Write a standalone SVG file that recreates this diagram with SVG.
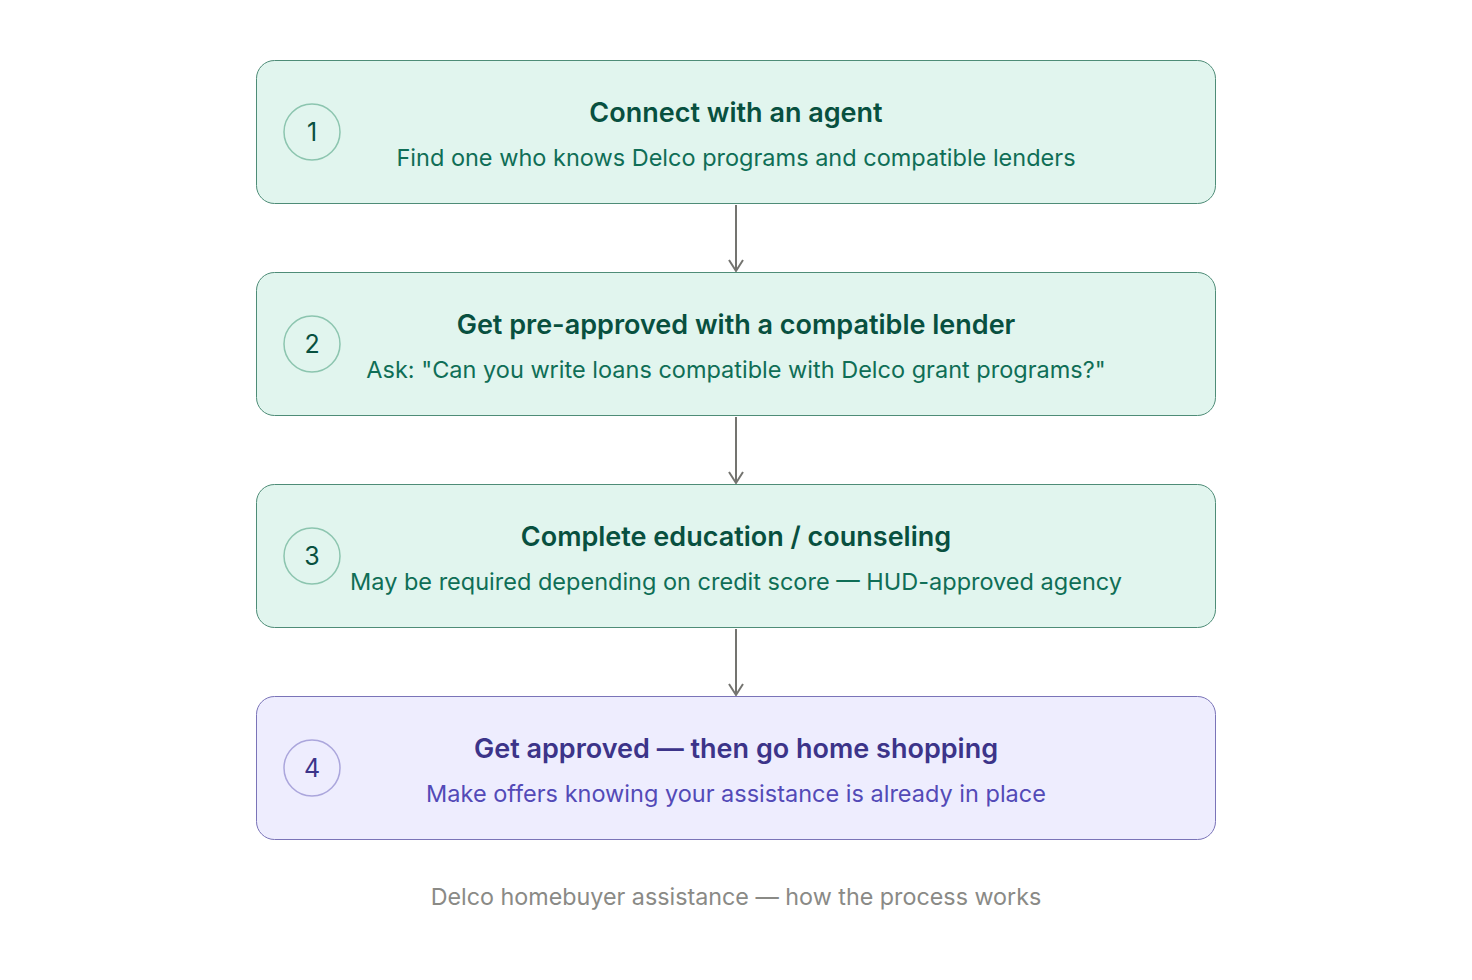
<svg xmlns="http://www.w3.org/2000/svg" width="1472" height="980" viewBox="0 0 1472 980">
<style>
.box{stroke-width:1}
.g .box{fill:#E1F5EE;stroke:#4E8C77}
.p .box{fill:#EEEDFE;stroke:#7A74B8}
.g .num{fill:none;stroke:#8CC5AF;stroke-width:1.5}
.p .num{fill:none;stroke:#ABA6DC;stroke-width:1.5}
text{font-family:Inter,"Noto Sans","Liberation Sans",sans-serif;text-anchor:middle;dominant-baseline:central}
.t{font-size:27px;font-weight:600}
.s{font-size:23.5px}
.n{font-size:25px}
.g .t,.g .n{fill:#08503F}
.g .s{fill:#0F6E56}
.p .t,.p .n{fill:#3C3489}
.p .s{fill:#534AB7}
.cap{font-size:23.3px;fill:#8A8A86}
.c{stroke:#747470;stroke-width:2;fill:none}
</style>
<defs>
<marker id="ar" markerWidth="20" markerHeight="16" refX="8" refY="12" orient="0" markerUnits="userSpaceOnUse">
<path d="M1,1 L8,12 L15,1" fill="none" stroke="#747470" stroke-width="2"/>
</marker>
</defs>
<rect width="1472" height="980" fill="#ffffff"/>
<g id="connectors">
<line class="c" x1="736" y1="205" x2="736" y2="271" marker-end="url(#ar)"/>
<line class="c" x1="736" y1="417" x2="736" y2="483" marker-end="url(#ar)"/>
<line class="c" x1="736" y1="629" x2="736" y2="695" marker-end="url(#ar)"/>
</g>
<g id="step1" class="g">
<rect class="box" x="256.5" y="60.5" width="959" height="143" rx="18"/>
<circle class="num" cx="312" cy="132" r="28"/>
<text class="n" x="312" y="132">1</text>
<text class="t" x="736" y="112">Connect with an agent</text>
<text class="s" x="736" y="157">Find one who knows Delco programs and compatible lenders</text>
</g>
<g id="step2" class="g">
<rect class="box" x="256.5" y="272.5" width="959" height="143" rx="18"/>
<circle class="num" cx="312" cy="344" r="28"/>
<text class="n" x="312" y="344">2</text>
<text class="t" x="736" y="324">Get pre-approved with a compatible lender</text>
<text class="s" x="736" y="369">Ask: "Can you write loans compatible with Delco grant programs?"</text>
</g>
<g id="step3" class="g">
<rect class="box" x="256.5" y="484.5" width="959" height="143" rx="18"/>
<circle class="num" cx="312" cy="556" r="28"/>
<text class="n" x="312" y="556">3</text>
<text class="t" x="736" y="536">Complete education / counseling</text>
<text class="s" x="736" y="581">May be required depending on credit score — HUD-approved agency</text>
</g>
<g id="step4" class="p">
<rect class="box" x="256.5" y="696.5" width="959" height="143" rx="18"/>
<circle class="num" cx="312" cy="768" r="28"/>
<text class="n" x="312" y="768">4</text>
<text class="t" x="736" y="748">Get approved — then go home shopping</text>
<text class="s" x="736" y="793">Make offers knowing your assistance is already in place</text>
</g>
<g id="caption">
<text class="cap" x="736" y="896">Delco homebuyer assistance — how the process works</text>
</g>
</svg>
